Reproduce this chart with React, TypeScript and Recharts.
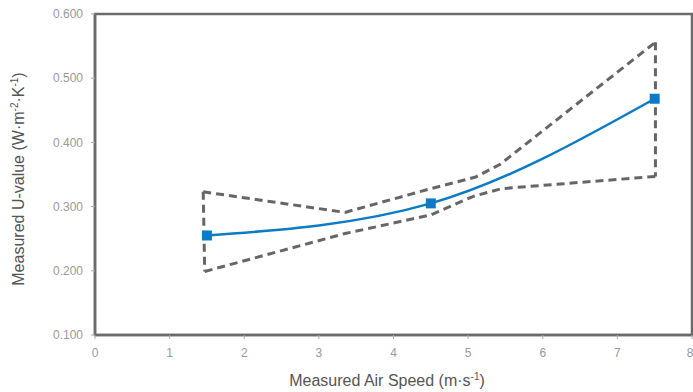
import React from "react";
import {
  LineChart,
  Line,
  XAxis,
  YAxis,
  ReferenceArea,
  Label,
} from "recharts";

const xTicks = [0, 1, 2, 3, 4, 5, 6, 7, 8];
const yTicks = [0.1, 0.2, 0.3, 0.4, 0.5, 0.6];

const measuredSpeed = [1.5, 4.5, 7.5];
const measuredU = [0.255, 0.305, 0.468];

const upperX = [1.45, 3.35, 4.5, 5.1, 5.43, 7.51];
const upperY = [0.323, 0.291, 0.328, 0.346, 0.366, 0.556];

const lowerX = [1.47, 3.35, 4.5, 5.07, 5.45, 7.51];
const lowerY = [0.199, 0.258, 0.287, 0.316, 0.328, 0.347];

const leftEdgeX = [1.45, 1.47];
const leftEdgeY = [0.323, 0.199];
const rightEdgeX = [7.51, 7.51];
const rightEdgeY = [0.556, 0.347];

const zip = (xs: number[], ys: number[]) => xs.map((x, i) => ({ x, y: ys[i] }));

const mainData = zip(measuredSpeed, measuredU);
const upperData = zip(upperX, upperY);
const lowerData = zip(lowerX, lowerY);
const leftData = zip(leftEdgeX, leftEdgeY);
const rightData = zip(rightEdgeX, rightEdgeY);

const BLUE = "#0a7bc4";
const DASH = "#666666";
const FONT = "'Liberation Sans', Arial, Helvetica, sans-serif";

const SquareDot = (props: any) => {
  const { cx, cy } = props;
  if (cx == null || cy == null) return null;
  return <rect x={cx - 5} y={cy - 5} width={10} height={10} fill={BLUE} />;
};

export default function App() {
  return (
    <div style={{ position: "absolute", left: 0, top: 0 }}>
      <LineChart
        width={693}
        height={392}
        margin={{ top: 14, right: 1, left: 0, bottom: 27 }}
      >
        <XAxis
          type="number"
          dataKey="x"
          domain={[0, 8]}
          ticks={xTicks}
          allowDataOverflow
          tickSize={4}
          tickMargin={9}
          height={30}
          axisLine={{ stroke: "#6b6b6b", strokeWidth: 2.5 }}
          tickLine={{ stroke: "#aaaaaa" }}
          tick={{ fill: "#999999", fontSize: 12, fontFamily: FONT }}
        >
          <Label
            content={() => (
              <text
                x={387}
                y={386}
                textAnchor="middle"
                fill="#555555"
                fontSize={16}
                fontFamily={FONT}
              >
                Measured Air Speed (m·s
                <tspan dy={-6} fontSize={10}>-1</tspan>
                <tspan dy={6}>)</tspan>
              </text>
            )}
          />
        </XAxis>
        <YAxis
          type="number"
          dataKey="y"
          domain={[0.1, 0.6]}
          ticks={yTicks}
          allowDataOverflow
          width={95}
          tickSize={4}
          tickMargin={8}
          axisLine={{ stroke: "#6b6b6b", strokeWidth: 2.5 }}
          tickLine={{ stroke: "#aaaaaa" }}
          tick={{ fill: "#999999", fontSize: 12, fontFamily: FONT }}
          tickFormatter={(v: number) => v.toFixed(3)}
        >
          <Label
            content={() => (
              <text
                x={24}
                y={179}
                textAnchor="middle"
                fill="#555555"
                fontSize={16}
                fontFamily={FONT}
                transform="rotate(-90, 24, 179)"
              >
                Measured U-value (W·m
                <tspan dy={-6} fontSize={10}>-2</tspan>
                <tspan dy={6}>·K</tspan>
                <tspan dy={-6} fontSize={10}>-1</tspan>
                <tspan dy={6}>)</tspan>
              </text>
            )}
          />
        </YAxis>
        <ReferenceArea
          x1={0}
          x2={8}
          y1={0.1}
          y2={0.6}
          fill="none"
          stroke="#6b6b6b"
          strokeWidth={2.5}
          fillOpacity={0}
          ifOverflow="visible"
        />
        <Line
          data={upperData}
          dataKey="y"
          type="linear"
          stroke={DASH}
          strokeWidth={3}
          strokeDasharray="8 5"
          dot={false}
          isAnimationActive={false}
        />
        <Line
          data={lowerData}
          dataKey="y"
          type="linear"
          stroke={DASH}
          strokeWidth={3}
          strokeDasharray="8 5"
          dot={false}
          isAnimationActive={false}
        />
        <Line
          data={leftData}
          dataKey="y"
          type="linear"
          stroke={DASH}
          strokeWidth={3}
          strokeDasharray="8 5"
          dot={false}
          isAnimationActive={false}
        />
        <Line
          data={rightData}
          dataKey="y"
          type="linear"
          stroke={DASH}
          strokeWidth={3}
          strokeDasharray="8 5"
          dot={false}
          isAnimationActive={false}
        />
        <Line
          data={mainData}
          dataKey="y"
          type="monotone"
          stroke={BLUE}
          strokeWidth={2.5}
          dot={<SquareDot />}
          isAnimationActive={false}
        />
      </LineChart>
    </div>
  );
}
